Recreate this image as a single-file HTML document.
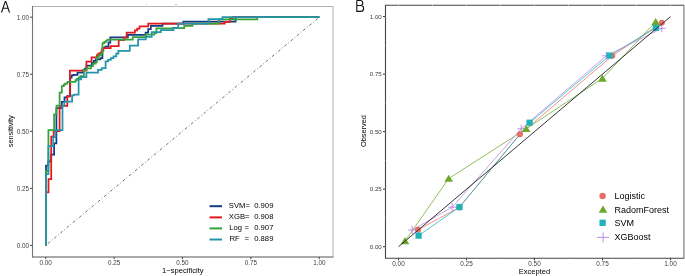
<!DOCTYPE html>
<html><head><meta charset="utf-8"><style>
html,body{margin:0;padding:0;background:#fff;}
body{width:685px;height:276px;overflow:hidden;}
svg{display:block;font-family:"Liberation Sans", sans-serif;will-change:transform;}
</style></head><body>
<svg width="685" height="276" viewBox="0 0 685 276">
<rect x="32.5" y="6.5" width="300.5" height="250.5" fill="none" stroke="#b4b4b4" stroke-width="1"/>
<line x1="32.5" y1="6" x2="32.5" y2="257.5" stroke="#747474" stroke-width="1.1"/>
<line x1="32" y1="257" x2="333.5" y2="257" stroke="#7a7a7a" stroke-width="1.1"/>
<line x1="30" y1="245.40" x2="32.5" y2="245.40" stroke="#444" stroke-width="1"/>
<text x="29.0" y="247.70" text-anchor="end" font-size="6.3" fill="#404040">0.00</text>
<line x1="30" y1="188.35" x2="32.5" y2="188.35" stroke="#444" stroke-width="1"/>
<text x="29.0" y="190.65" text-anchor="end" font-size="6.3" fill="#404040">0.25</text>
<line x1="30" y1="131.30" x2="32.5" y2="131.30" stroke="#444" stroke-width="1"/>
<text x="29.0" y="133.60" text-anchor="end" font-size="6.3" fill="#404040">0.50</text>
<line x1="30" y1="74.25" x2="32.5" y2="74.25" stroke="#444" stroke-width="1"/>
<text x="29.0" y="76.55" text-anchor="end" font-size="6.3" fill="#404040">0.75</text>
<line x1="30" y1="17.20" x2="32.5" y2="17.20" stroke="#444" stroke-width="1"/>
<text x="29.0" y="19.50" text-anchor="end" font-size="6.3" fill="#404040">1.00</text>
<line x1="45.70" y1="257" x2="45.70" y2="259.1" stroke="#444" stroke-width="1"/>
<text x="45.70" y="264.9" text-anchor="middle" font-size="6.3" fill="#404040">0.00</text>
<line x1="114.10" y1="257" x2="114.10" y2="259.1" stroke="#444" stroke-width="1"/>
<text x="114.10" y="264.9" text-anchor="middle" font-size="6.3" fill="#404040">0.25</text>
<line x1="182.50" y1="257" x2="182.50" y2="259.1" stroke="#444" stroke-width="1"/>
<text x="182.50" y="264.9" text-anchor="middle" font-size="6.3" fill="#404040">0.50</text>
<line x1="250.90" y1="257" x2="250.90" y2="259.1" stroke="#444" stroke-width="1"/>
<text x="250.90" y="264.9" text-anchor="middle" font-size="6.3" fill="#404040">0.75</text>
<line x1="319.30" y1="257" x2="319.30" y2="259.1" stroke="#444" stroke-width="1"/>
<text x="319.30" y="264.9" text-anchor="middle" font-size="6.3" fill="#404040">1.00</text>
<text x="182.8" y="272.5" text-anchor="middle" font-size="7.6" fill="#000">1−specificity</text>
<text transform="translate(12.9,131.3) rotate(-90)" text-anchor="middle" font-size="7.4" fill="#000">sensitivity</text>
<path d="M 1.5 12.5 L 5.2 1.6 H 5.9 L 9.5 12.5 M 3.2 8.3 H 7.9" fill="none" stroke="#111" stroke-width="1.1" stroke-linejoin="bevel"/>
<rect x="146" y="4" width="1" height="1" fill="#cfcfcf"/><rect x="175" y="4" width="2" height="1" fill="#bdbdbd"/>
<line x1="45.7" y1="245.4" x2="319.3" y2="17.2" stroke="#5a5a5a" stroke-width="0.85" stroke-dasharray="0.8 2.2 2.9 2.2"/>
<path d="M 46 245.4 V 165.6 H 48.3 V 161.4 H 51.2 V 154.7 H 54.1 V 143.3 H 56.4 V 108.2 H 61.8 V 101.8 H 64.5 V 97.3 H 67.3 V 96.2 H 70.2 V 77.5 H 71.6 V 75.3 H 73.4 V 74.8 H 77.5 V 72.6 H 83.3 V 70 H 84.7 V 68.5 H 86.6 V 65.7 H 91.8 V 62.9 H 93.9 V 60.9 H 95.7 V 59.3 H 100.4 V 58 H 102.4 V 48.2 H 105.2 V 46.5 H 108.5 V 42.7 H 110.3 V 37.3 H 127.9 V 34.9 H 145.6 V 32.5 H 148.2 V 29 H 150.8 V 25.8 H 162.5 V 23.7 H 183.4 V 21.6 H 235.6 V 17.1 H 319.3" fill="none" stroke="#133c84" stroke-width="1.75" stroke-linejoin="miter"/>
<path d="M 46 245.4 V 192.3 H 48.5 V 179.2 H 51.2 V 136.7 H 53.6 V 131 H 59.6 V 105.8 H 67.3 V 96.3 H 69.9 V 70.5 H 86.4 V 61.5 H 91.6 V 57.4 H 96.9 V 55.1 H 98.3 V 53.6 H 100.1 V 52.8 H 101.5 V 50.5 H 103.4 V 48.1 H 110.7 V 46 H 118.7 V 40 H 124 V 37.6 H 126.6 V 32.7 H 134.9 V 30.4 H 137.2 V 28.5 H 139.5 V 26.4 H 148.2 V 23.7 H 224.7 V 21.9 H 229.9 V 18.9 H 233 V 17.1 H 319.3" fill="none" stroke="#e31a1c" stroke-width="1.75" stroke-linejoin="miter"/>
<path d="M 46 245.4 V 171 H 48.4 V 130.2 H 54.1 V 114.3 H 56.5 V 105.6 H 59.6 V 92.5 H 61.8 V 86.2 H 63.8 V 84.6 H 65.1 V 83.6 H 67.4 V 81.8 H 75.5 V 80.1 H 76.9 V 78.8 H 78.6 V 77.5 H 80.3 V 76 H 83.9 V 69.8 H 86.5 V 68.4 H 90.9 V 66.1 H 93 V 63.6 H 95.7 V 62 H 96.9 V 57.7 H 97.8 V 56.5 H 98.9 V 55.4 H 100.1 V 54.5 H 101.2 V 53.6 H 102.5 V 43.1 H 104.3 V 41.8 H 106 V 40.5 H 107.6 V 39.5 H 132.7 V 37 H 145.6 V 34.7 H 154.3 V 33 H 156.4 V 28.3 H 172.5 V 28.1 H 184.2 V 25.9 H 192.5 V 23.7 H 219 V 19.3 H 257.3 V 17.1 H 319.3" fill="none" stroke="#35a33a" stroke-width="1.75" stroke-linejoin="miter"/>
<path d="M 46 245.4 V 174.1 H 48.4 V 146.2 H 53.2 V 137 H 55.5 V 130.2 H 62.5 V 105.6 H 64.3 V 101.7 H 72.1 V 95.3 H 74.3 V 94.7 H 78.6 V 79.3 H 81.1 V 77.1 H 86.4 V 72.5 H 98 V 69.8 H 101.7 V 68.2 H 105.6 V 61.3 H 108.1 V 59.9 H 110.8 V 58 H 113.5 V 56.3 H 116.3 V 53.6 H 118.4 V 50.8 H 129.8 V 45.6 H 138.1 V 39.4 H 145.8 V 36.9 H 151.7 V 32.2 H 160.8 V 30.1 H 173.4 V 27.9 H 178.2 V 23.7 H 208.4 V 19.1 H 222.5 V 17.1 H 319.3" fill="none" stroke="#2594ab" stroke-width="1.75" stroke-linejoin="miter"/>
<line x1="209.5" y1="206.2" x2="222" y2="206.2" stroke="#133c84" stroke-width="2"/>
<line x1="209.5" y1="217.4" x2="222" y2="217.4" stroke="#e31a1c" stroke-width="2"/>
<line x1="209.5" y1="228.4" x2="222" y2="228.4" stroke="#35a33a" stroke-width="2"/>
<line x1="209.5" y1="239.5" x2="222" y2="239.5" stroke="#2594ab" stroke-width="2"/>
<text x="228.8" y="208.4" font-size="7.7" fill="#000">SVM=</text>
<text x="228.8" y="219.1" font-size="7.7" fill="#000">XGB=</text>
<text x="229.3" y="230.1" font-size="7.7" fill="#000">Log</text><text x="244.5" y="230.1" font-size="7.7" fill="#000">=</text>
<text x="229.5" y="241.0" font-size="7.7" fill="#000">RF</text><text x="244.5" y="241.0" font-size="7.7" fill="#000">=</text>
<text x="254.2" y="208.4" font-size="7.7" fill="#000">0.909</text>
<text x="254.2" y="219.1" font-size="7.7" fill="#000">0.908</text>
<text x="254.2" y="230.1" font-size="7.7" fill="#000">0.907</text>
<text x="254.2" y="241.0" font-size="7.7" fill="#000">0.889</text>
<line x1="683.9" y1="4.7" x2="683.9" y2="258.7" stroke="#a6a6a6" stroke-width="1.8"/>
<polyline points="683.6,5.2 385.5,5.2 385.5,258.2 683.6,258.2" fill="none" stroke="#444" stroke-width="1.1"/>
<rect x="398.00" y="4.6" width="1" height="1.2" fill="#d0d0d0"/>
<rect x="398.00" y="257.6" width="1" height="1.2" fill="#9a9a9a"/>
<rect x="432.00" y="4.6" width="1" height="1.2" fill="#d0d0d0"/>
<rect x="432.00" y="257.6" width="1" height="1.2" fill="#9a9a9a"/>
<rect x="466.00" y="4.6" width="1" height="1.2" fill="#d0d0d0"/>
<rect x="466.00" y="257.6" width="1" height="1.2" fill="#9a9a9a"/>
<rect x="500.00" y="4.6" width="1" height="1.2" fill="#d0d0d0"/>
<rect x="500.00" y="257.6" width="1" height="1.2" fill="#9a9a9a"/>
<rect x="534.00" y="4.6" width="1" height="1.2" fill="#d0d0d0"/>
<rect x="534.00" y="257.6" width="1" height="1.2" fill="#9a9a9a"/>
<rect x="568.00" y="4.6" width="1" height="1.2" fill="#d0d0d0"/>
<rect x="568.00" y="257.6" width="1" height="1.2" fill="#9a9a9a"/>
<rect x="602.00" y="4.6" width="1" height="1.2" fill="#d0d0d0"/>
<rect x="602.00" y="257.6" width="1" height="1.2" fill="#9a9a9a"/>
<rect x="636.00" y="4.6" width="1" height="1.2" fill="#d0d0d0"/>
<rect x="636.00" y="257.6" width="1" height="1.2" fill="#9a9a9a"/>
<rect x="670.00" y="4.6" width="1" height="1.2" fill="#d0d0d0"/>
<rect x="670.00" y="257.6" width="1" height="1.2" fill="#9a9a9a"/>
<rect x="384.9" y="246.20" width="1.2" height="1" fill="#8a8a8a"/>
<rect x="384.9" y="217.44" width="1.2" height="1" fill="#8a8a8a"/>
<rect x="384.9" y="188.68" width="1.2" height="1" fill="#8a8a8a"/>
<rect x="384.9" y="159.92" width="1.2" height="1" fill="#8a8a8a"/>
<rect x="384.9" y="131.16" width="1.2" height="1" fill="#8a8a8a"/>
<rect x="384.9" y="102.40" width="1.2" height="1" fill="#8a8a8a"/>
<rect x="384.9" y="73.64" width="1.2" height="1" fill="#8a8a8a"/>
<rect x="384.9" y="44.88" width="1.2" height="1" fill="#8a8a8a"/>
<rect x="384.9" y="16.12" width="1.2" height="1" fill="#8a8a8a"/>
<line x1="383" y1="246.70" x2="385.5" y2="246.70" stroke="#333" stroke-width="1"/>
<text x="381.8" y="248.90" text-anchor="end" font-size="6.2" fill="#404040">0.00</text>
<line x1="383" y1="189.17" x2="385.5" y2="189.17" stroke="#333" stroke-width="1"/>
<text x="381.8" y="191.37" text-anchor="end" font-size="6.2" fill="#404040">0.25</text>
<line x1="383" y1="131.65" x2="385.5" y2="131.65" stroke="#333" stroke-width="1"/>
<text x="381.8" y="133.85" text-anchor="end" font-size="6.2" fill="#404040">0.50</text>
<line x1="383" y1="74.12" x2="385.5" y2="74.12" stroke="#333" stroke-width="1"/>
<text x="381.8" y="76.33" text-anchor="end" font-size="6.2" fill="#404040">0.75</text>
<line x1="383" y1="16.60" x2="385.5" y2="16.60" stroke="#333" stroke-width="1"/>
<text x="381.8" y="18.80" text-anchor="end" font-size="6.2" fill="#404040">1.00</text>
<line x1="398.50" y1="258.2" x2="398.50" y2="260.3" stroke="#333" stroke-width="1"/>
<text x="398.50" y="266.0" text-anchor="middle" font-size="6.4" fill="#404040">0.00</text>
<line x1="466.50" y1="258.2" x2="466.50" y2="260.3" stroke="#333" stroke-width="1"/>
<text x="466.50" y="266.0" text-anchor="middle" font-size="6.4" fill="#404040">0.25</text>
<line x1="534.50" y1="258.2" x2="534.50" y2="260.3" stroke="#333" stroke-width="1"/>
<text x="534.50" y="266.0" text-anchor="middle" font-size="6.4" fill="#404040">0.50</text>
<line x1="602.50" y1="258.2" x2="602.50" y2="260.3" stroke="#333" stroke-width="1"/>
<text x="602.50" y="266.0" text-anchor="middle" font-size="6.4" fill="#404040">0.75</text>
<line x1="670.50" y1="258.2" x2="670.50" y2="260.3" stroke="#333" stroke-width="1"/>
<text x="670.50" y="266.0" text-anchor="middle" font-size="6.4" fill="#404040">1.00</text>
<text x="534.5" y="274.1" text-anchor="middle" font-size="7.6" fill="#000">Excepted</text>
<text transform="translate(366.1,131.1) rotate(-90)" text-anchor="middle" font-size="7.4" fill="#000">Observed</text>
<path d="M 356.8 0.5 H 360.4 C 362.1 0.5 362.8 1.6 362.8 2.9 C 362.8 4.4 361.8 5.5 360.2 5.5 H 356.8 M 360.2 5.5 H 360.8 C 362.8 5.5 363.6 6.9 363.6 8.4 C 363.6 10.2 362.5 11.4 360.6 11.4 H 356.8 V 0.5" fill="none" stroke="#111" stroke-width="1.1"/>
<polyline points="418,229.8 459.2,207.5 519.9,134.3 612.3,55.8 661.8,22.7" fill="none" stroke="#e86e68" stroke-width="0.75"/>
<polyline points="405,241 448.7,178.6 526.2,128.8 602.4,78.5 655.7,21.8" fill="none" stroke="#6da82a" stroke-width="0.75"/>
<polyline points="418.6,235.6 459.5,207 529.6,122.7 609.5,55.6 655.8,27.9" fill="none" stroke="#1fb3b9" stroke-width="0.75"/>
<polyline points="412.2,230 452.2,207.2 521.2,128.8 606.3,55.8 661.8,28.3" fill="none" stroke="#b585e0" stroke-width="0.75"/>
<path d="M 408.20 230 H 416.20 M 412.2 226.00 V 234.00" stroke="#b585e0" stroke-width="0.9" fill="none"/>
<path d="M 448.20 207.2 H 456.20 M 452.2 203.20 V 211.20" stroke="#b585e0" stroke-width="0.9" fill="none"/>
<path d="M 517.20 128.8 H 525.20 M 521.2 124.80 V 132.80" stroke="#b585e0" stroke-width="0.9" fill="none"/>
<path d="M 602.30 55.8 H 610.30 M 606.3 51.80 V 59.80" stroke="#b585e0" stroke-width="0.9" fill="none"/>
<path d="M 657.80 28.3 H 665.80 M 661.8 24.30 V 32.30" stroke="#b585e0" stroke-width="0.9" fill="none"/>
<polygon points="405.00,237.09 400.70,244.19 409.30,244.19" fill="#6da82a"/>
<polygon points="448.70,174.69 444.40,181.79 453.00,181.79" fill="#6da82a"/>
<polygon points="526.20,124.90 521.90,132.00 530.50,132.00" fill="#6da82a"/>
<polygon points="602.40,74.59 598.10,81.69 606.70,81.69" fill="#6da82a"/>
<polygon points="655.70,17.89 651.40,25.00 660.00,25.00" fill="#6da82a"/>
<circle cx="418" cy="229.8" r="3.05" fill="#e86e68"/>
<circle cx="459.2" cy="207.5" r="3.05" fill="#e86e68"/>
<circle cx="519.9" cy="134.3" r="3.05" fill="#e86e68"/>
<circle cx="612.3" cy="55.8" r="3.05" fill="#e86e68"/>
<circle cx="661.8" cy="22.7" r="3.05" fill="#e86e68"/>
<rect x="415.50" y="232.50" width="6.2" height="6.2" fill="#1fb3b9"/>
<rect x="456.40" y="203.90" width="6.2" height="6.2" fill="#1fb3b9"/>
<rect x="526.50" y="119.60" width="6.2" height="6.2" fill="#1fb3b9"/>
<rect x="606.40" y="52.50" width="6.2" height="6.2" fill="#1fb3b9"/>
<rect x="652.70" y="24.80" width="6.2" height="6.2" fill="#1fb3b9"/>
<line x1="398.5" y1="246.7" x2="670.5" y2="16.6" stroke="#2a2a2a" stroke-width="0.95"/>
<circle cx="602.6" cy="196" r="3.2" fill="#e86e68"/>
<polygon points="603.00,205.59 598.70,212.69 607.30,212.69" fill="#6da82a"/>
<rect x="599.45" y="219.65" width="6.3" height="6.3" fill="#1fb3b9"/>
<path d="M 597.00 237.4 H 609.20 M 603.1 232.25 V 242.55" stroke="#b585e0" stroke-width="0.9" fill="none"/>
<text x="614.6" y="198.9" font-size="9" fill="#000">Logistic</text>
<text x="614.6" y="212.6" font-size="9" fill="#000">RadomForest</text>
<text x="614.6" y="226.4" font-size="9" fill="#000">SVM</text>
<text x="614.6" y="240.3" font-size="9" fill="#000">XGBoost</text>
</svg>
</body></html>
